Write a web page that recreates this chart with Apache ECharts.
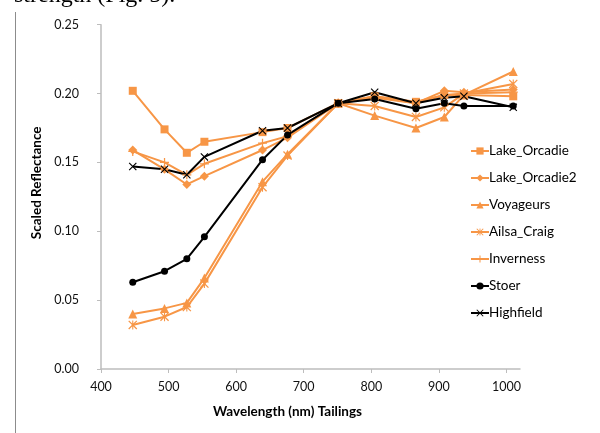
<!DOCTYPE html>
<html>
<head>
<meta charset="utf-8">
<script src="https://cdn.jsdelivr.net/npm/echarts@6/dist/echarts.min.js"></script>
<style>
  html, body { margin: 0; padding: 0; background: #fff; }
  #chart { width: 600px; height: 433px; }
</style>
</head>
<body>
<div id="chart"></div>
<script>
// wavelengths (nm)
var wavelengths = [447, 494, 527, 553, 639, 676, 751, 805, 866, 908, 937, 1010];

var lakeOrcadie  = [0.202, 0.174, 0.157, 0.165, 0.172, 0.175, 0.193, 0.198, 0.194, 0.199, 0.199, 0.198];
var lakeOrcadie2 = [0.159, 0.145, 0.134, 0.140, 0.159, 0.168, 0.193, 0.197, 0.193, 0.202, 0.201, 0.203];
var voyageurs    = [0.040, 0.044, 0.048, 0.066, 0.136, 0.156, 0.193, 0.184, 0.175, 0.183, 0.199, 0.216];
var ailsaCraig   = [0.032, 0.038, 0.045, 0.062, 0.132, 0.155, 0.193, 0.191, 0.183, 0.190, 0.200, 0.207];
var inverness    = [0.158, 0.150, 0.141, 0.149, 0.164, 0.169, 0.193, 0.198, 0.193, 0.199, 0.200, 0.201];
var stoer        = [0.063, 0.071, 0.080, 0.096, 0.152, 0.170, 0.193, 0.196, 0.189, 0.193, 0.191, 0.191];
var highfield    = [0.147, 0.145, 0.141, 0.154, 0.173, 0.175, 0.193, 0.201, 0.193, 0.197, 0.198, 0.190];

var xTicks = [400, 500, 600, 700, 800, 900, 1000];

var ORANGE = "#F79646";
var BLACK = "#000000";
var FONT = "Lato, 'Open Sans', sans-serif";

// marker shapes
var plusPath = "path://M4.3,0H5.7V4.3H10V5.7H5.7V10H4.3V5.7H0V4.3H4.3Z";
var crossPath = "path://M0,1L1,0L10,9L9,10Z M9,0L10,1L1,10L0,9Z";
var starPath = "path://M0,1L1,0L10,9L9,10Z M9,0L10,1L1,10L0,9Z M4.4,0H5.6V10H4.4Z";

function pairs(ys) {
  return wavelengths.map(function (x, i) { return [x, ys[i]]; });
}

function makeSeries(name, ys, color, symbol, size) {
  return {
    name: name,
    type: "line",
    data: pairs(ys),
    symbol: symbol,
    symbolSize: size,
    showAllSymbol: true,
    lineStyle: { color: color, width: 2 },
    itemStyle: { color: color, borderColor: color, borderWidth: 0 },
    emphasis: { disabled: true }
  };
}

var chart = echarts.init(document.getElementById("chart"));
chart.setOption({
  animation: false,
  graphic: [
    // page border line at left
    {
      type: "line",
      shape: { x1: 15.5, y1: 12, x2: 15.5, y2: 433 },
      style: { stroke: "#8c8c8c", lineWidth: 1 }
    },
    // cut-off text of the page above the chart
    {
      type: "text",
      left: 14,
      top: -16,
      style: {
        text: "strength (Fig. 5).",
        font: "24px 'Liberation Serif', serif",
        fill: "#000"
      }
    }
  ],
  grid: { left: 101, right: 80, top: 24.7, bottom: 64 },
  legend: {
    orient: "vertical",
    left: 465,
    top: 139,
    itemWidth: 18,
    itemHeight: 9,
    itemGap: 13,
    textStyle: { fontFamily: FONT, fontSize: 13.5, color: "#000", lineHeight: 14, padding: [0, 0, 0, -5] },
    data: ["Lake_Orcadie", "Lake_Orcadie2", "Voyageurs", "Ailsa_Craig", "Inverness", "Stoer", "Highfield"]
  },
  xAxis: {
    type: "value",
    min: 400,
    max: 1020,
    interval: 100,
    name: "Wavelength (nm) Tailings",
    nameLocation: "middle",
    nameGap: 36,
    nameTextStyle: { fontFamily: FONT, fontSize: 13.5, fontWeight: "bold", color: "#000", padding: [0, 46, 0, 0] },
    splitLine: { show: false },
    axisLine: { lineStyle: { color: "#bdbdbd", width: 1.5 } },
    axisTick: { show: true, length: 4, customValues: xTicks, lineStyle: { color: "#bdbdbd" } },
    axisLabel: {
      customValues: xTicks,
      margin: 11,
      fontFamily: FONT,
      fontSize: 12.5,
      color: "#111",
      formatter: function (v) { return String(v); }
    }
  },
  yAxis: {
    type: "value",
    min: 0,
    max: 0.25,
    interval: 0.05,
    name: "Scaled Reflectance",
    nameLocation: "middle",
    nameGap: 47,
    nameRotate: 90,
    nameTextStyle: { fontFamily: FONT, fontSize: 13.5, fontWeight: "bold", color: "#000", padding: [0, 0, 0, 28] },
    splitLine: { show: false },
    axisLine: { show: true, lineStyle: { color: "#bdbdbd", width: 1.5 } },
    axisTick: { show: true, length: 4, lineStyle: { color: "#bdbdbd" } },
    axisLabel: {
      margin: 22,
      fontFamily: FONT,
      fontSize: 12.5,
      color: "#111",
      formatter: function (v) { return v.toFixed(2); }
    }
  },
  series: [
    makeSeries("Lake_Orcadie", lakeOrcadie, ORANGE, "rect", 8),
    makeSeries("Lake_Orcadie2", lakeOrcadie2, ORANGE, "diamond", 9),
    makeSeries("Voyageurs", voyageurs, ORANGE, "triangle", 9),
    makeSeries("Ailsa_Craig", ailsaCraig, ORANGE, starPath, 9),
    makeSeries("Inverness", inverness, ORANGE, plusPath, 9),
    makeSeries("Stoer", stoer, BLACK, "circle", 7),
    makeSeries("Highfield", highfield, BLACK, crossPath, 8)
  ]
});
</script>
</body>
</html>
